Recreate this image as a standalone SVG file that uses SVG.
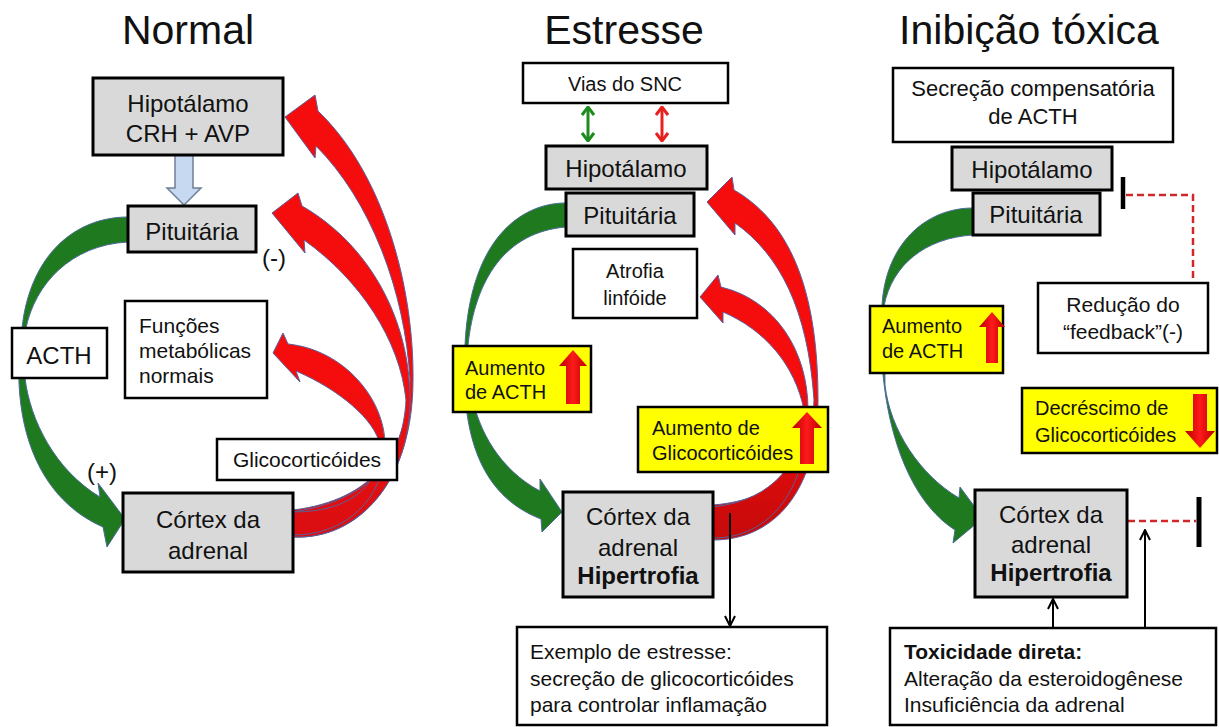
<svg xmlns="http://www.w3.org/2000/svg" width="1219" height="727" viewBox="0 0 1219 727">
<style>
text{font-family:"Liberation Sans",Arial,sans-serif;fill:#111}
.title{font-size:41px;text-anchor:middle}
.lbl{font-size:24px;text-anchor:middle}
.sm{font-size:21px}
.c{text-anchor:middle}
.b{font-weight:bold}
.gray{fill:#d9d9d9;stroke:#000;stroke-width:3}
.wht{fill:#fff;stroke:#000;stroke-width:2.5}
.yel{fill:#ffff00;stroke:#000;stroke-width:2.5}
.grn{fill:#1f7a1f;stroke:#4a6b9a;stroke-width:1}
.red{fill:url(#redg);stroke:#5a5f9a;stroke-width:1}
.red2{fill:url(#redg2);stroke:#5a5f9a;stroke-width:1}
.blk{stroke:#000;stroke-width:2;fill:none}
.dash{stroke:#d02828;stroke-width:2.5;fill:none;stroke-dasharray:7 4}
.upr{fill:url(#arrg)}
</style>
<defs>
<linearGradient id="redg" gradientUnits="userSpaceOnUse" x1="0" y1="380" x2="0" y2="545">
<stop offset="0" stop-color="#f50d0d"/><stop offset="1" stop-color="#d80f12"/>
</linearGradient>
<linearGradient id="redg2" gradientUnits="userSpaceOnUse" x1="0" y1="380" x2="0" y2="545">
<stop offset="0" stop-color="#f50d0d"/><stop offset="1" stop-color="#c40a0a"/>
</linearGradient>
<linearGradient id="arrg" x1="0" y1="0" x2="1" y2="0">
<stop offset="0" stop-color="#b80000"/><stop offset="0.5" stop-color="#ff1a1a"/><stop offset="1" stop-color="#b80000"/>
</linearGradient>
<marker id="vb" viewBox="0 0 12 12" refX="11" refY="6" markerWidth="12" markerHeight="12" markerUnits="userSpaceOnUse" orient="auto-start-reverse">
<path d="M1,1 L11,6 L1,11" fill="none" stroke="#000" stroke-width="2"/>
</marker>
<marker id="vg" viewBox="0 0 10 14" refX="9" refY="7" markerWidth="10" markerHeight="14" markerUnits="userSpaceOnUse" orient="auto-start-reverse">
<path d="M1,1 L9,7 L1,13" fill="none" stroke="#1f8a1f" stroke-width="3"/>
</marker>
<marker id="vr" viewBox="0 0 10 14" refX="9" refY="7" markerWidth="10" markerHeight="14" markerUnits="userSpaceOnUse" orient="auto-start-reverse">
<path d="M1,1 L9,7 L1,13" fill="none" stroke="#e82020" stroke-width="3"/>
</marker>
</defs>
<rect width="1219" height="727" fill="#fff"/>

<g id="titles">
<text class="title" x="188" y="44">Normal</text>
<text class="title" x="624" y="44">Estresse</text>
<text class="title" x="1029" y="44">Inibição tóxica</text>
</g>

<g id="connectors">
<!-- Panel 1 -->
<path d="M175,155 L193,155 L193,188 L201,188 L184,205 L167,188 L175,188 Z" fill="#c6d9f1" stroke="#6f7f95" stroke-width="1.5"/>
<path class="grn" d="M128,217 C75,217 30,255 22,328 C10,410 30,495 103,527 L107,547 L125,519 L98,483 L100,497 C55,470 30,420 25,378 L26,328 C35,285 70,245 128,242 Z"/>
<path class="red" d="M293,537 C360,540 413,480 413,380 C414,290 385,175 318,111 L315,95 L285,117 L315,158 L316,146 C370,200 405,290 410,380 C408,450 375,500 293,510 Z"/>
<path class="red" d="M293,537 C358,540 410,480 410,400 C410,320 370,245 302,206 L298,193 L272,213 L305,253 L304,240 C360,280 400,340 406,400 C403,460 370,500 293,512 Z"/>
<path class="red" d="M293,535 C345,535 385,500 385,445 C385,400 345,350 288,344 L283,333 L273,353 L300,382 L296,371 C340,390 375,420 380,445 C380,490 345,512 293,512 Z"/>
<!-- Panel 2 -->
<line x1="588" y1="107" x2="588" y2="141" stroke="#1f8a1f" stroke-width="3" marker-start="url(#vg)" marker-end="url(#vg)"/>
<line x1="662" y1="107" x2="662" y2="141" stroke="#e82020" stroke-width="3" marker-start="url(#vr)" marker-end="url(#vr)"/>
<path class="grn" d="M566,203 C520,203 470,240 465,345 C460,430 478,495 541,519 L542,532 L562,512 L540,479 L540,491 C500,470 478,430 472,395 L468,345 C475,280 505,232 566,227 Z"/>
<path class="red2" d="M713,540 C775,540 818,490 818,400 C818,300 795,225 734,190 L732,177 L707,202 L735,235 L735,223 C780,255 808,310 814,400 C812,460 780,500 713,505 Z"/>
<path class="red2" d="M713,538 C770,538 808,490 808,410 C808,350 775,300 721,287 L718,275 L700,297 L723,323 L723,312 C765,330 795,365 804,410 C804,460 775,500 713,507 Z"/>
<line class="blk" x1="730" y1="513" x2="730" y2="626" marker-end="url(#vb)"/>
<!-- Panel 3 -->
<path class="grn" d="M973,208 C925,208 885,245 882,306 C876,400 900,495 955,530 L953,543 L983,518 L960,487 L959,498 C920,475 890,430 885,385 L884,306 C892,265 925,238 973,235 Z"/>
<path class="dash" d="M1126,195 L1193,195 L1193,282"/>
<line x1="1123" y1="177" x2="1123" y2="209" stroke="#000" stroke-width="4.5"/>
<line class="dash" x1="1128" y1="521" x2="1196" y2="521"/>
<line x1="1199" y1="497" x2="1199" y2="547" stroke="#000" stroke-width="5"/>
<line class="blk" x1="1053" y1="627" x2="1053" y2="599" marker-end="url(#vb)"/>
<line class="blk" x1="1145" y1="627" x2="1145" y2="530" marker-end="url(#vb)"/>
</g>

<!-- Panel 1 nodes -->
<g id="n1-hipotalamo">
<rect class="gray" x="93" y="78" width="190" height="77"/>
<text class="lbl" x="188" y="112">Hipotálamo</text>
<text class="lbl" x="188" y="142">CRH + AVP</text>
</g>
<g id="n1-pituitaria">
<rect class="gray" x="128" y="206" width="128" height="46"/>
<text class="lbl" x="192" y="240">Pituitária</text>
</g>
<g id="n1-minus"><text class="lbl" x="274" y="266">(-)</text></g>
<g id="n1-acth">
<rect class="wht" x="12" y="328" width="95" height="50"/>
<text class="lbl" x="59" y="364">ACTH</text>
</g>
<g id="n1-funcoes">
<rect class="wht" x="125" y="301" width="142" height="97"/>
<text class="sm" x="139" y="333">Funções</text>
<text class="sm" x="139" y="358">metabólicas</text>
<text class="sm" x="139" y="383">normais</text>
</g>
<g id="n1-glico">
<rect class="wht" x="217" y="439" width="180" height="41"/>
<text class="sm c" x="307" y="467">Glicocorticóides</text>
</g>
<g id="n1-plus"><text class="lbl" x="102" y="480">(+)</text></g>
<g id="n1-cortex">
<rect class="gray" x="123" y="493" width="170" height="79"/>
<text class="lbl" x="208" y="528">Córtex da</text>
<text class="lbl" x="208" y="559">adrenal</text>
</g>

<!-- Panel 2 nodes -->
<g id="n2-snc">
<rect class="wht" x="523" y="63" width="205" height="40"/>
<text class="c" x="625" y="91" font-size="20">Vias do SNC</text>
</g>
<g id="n2-hipotalamo">
<rect class="gray" x="546" y="146" width="161" height="43"/>
<text class="lbl" x="626" y="177">Hipotálamo</text>
</g>
<g id="n2-pituitaria">
<rect class="gray" x="566" y="193" width="128" height="43"/>
<text class="lbl" x="630" y="224">Pituitária</text>
</g>
<g id="n2-atrofia">
<rect class="wht" x="573" y="249" width="124" height="69"/>
<text class="c" x="635" y="278" font-size="20">Atrofia</text>
<text class="c" x="635" y="305" font-size="20">linfóide</text>
</g>
<g id="n2-acth">
<rect class="yel" x="453" y="346" width="138" height="66"/>
<text x="465" y="375" font-size="20">Aumento</text>
<text x="465" y="399" font-size="20">de ACTH</text>
<path class="upr" d="M573,350 L587,366 L580,366 L580,404 L566,404 L566,366 L559,366 Z"/>
</g>
<g id="n2-glico">
<rect class="yel" x="638" y="407" width="190" height="65"/>
<text x="652" y="435" font-size="20">Aumento de</text>
<text x="652" y="460" font-size="20">Glicocorticóides</text>
<path class="upr" d="M807,412 L822,428 L814,428 L814,464 L800,464 L800,428 L792,428 Z"/>
</g>
<g id="n2-cortex">
<rect class="gray" x="563" y="492" width="150" height="105"/>
<text class="lbl" x="638" y="525">Córtex da</text>
<text class="lbl" x="638" y="556">adrenal</text>
<text class="lbl b" x="638" y="584" font-size="22">Hipertrofia</text>
</g>
<g id="n2-exemplo">
<rect class="wht" x="517" y="627" width="310" height="98"/>
<text class="sm" x="530" y="659">Exemplo de estresse:</text>
<text class="sm" x="530" y="686">secreção de glicocorticóides</text>
<text class="sm" x="530" y="712">para controlar inflamação</text>
</g>

<!-- Panel 3 nodes -->
<g id="n3-secrecao">
<rect class="wht" x="893" y="68" width="280" height="74"/>
<text class="c" x="1033" y="96" font-size="22">Secreção compensatória</text>
<text class="c" x="1033" y="124" font-size="22">de ACTH</text>
</g>
<g id="n3-hipotalamo">
<rect class="gray" x="952" y="147" width="160" height="43"/>
<text class="lbl" x="1032" y="178">Hipotálamo</text>
</g>
<g id="n3-pituitaria">
<rect class="gray" x="973" y="193" width="127" height="42"/>
<text class="lbl" x="1036" y="223">Pituitária</text>
</g>
<g id="n3-reducao">
<rect class="wht" x="1038" y="283" width="170" height="70"/>
<text class="sm c" x="1123" y="312">Redução do</text>
<text class="sm c" x="1123" y="339">“feedback”(-)</text>
</g>
<g id="n3-acth">
<rect class="yel" x="870" y="306" width="133" height="67"/>
<text x="882" y="333" font-size="20">Aumento</text>
<text x="882" y="358" font-size="20">de ACTH</text>
<path class="upr" d="M992,312 L1005,327 L998,327 L998,363 L986,363 L986,327 L979,327 Z"/>
</g>
<g id="n3-glico">
<rect class="yel" x="1022" y="388" width="195" height="65"/>
<text x="1035" y="415" font-size="20">Decréscimo de</text>
<text x="1035" y="442" font-size="20">Glicocorticóides</text>
<path class="upr" d="M1200,448 L1215,431 L1207,431 L1207,394 L1193,394 L1193,431 L1185,431 Z"/>
</g>
<g id="n3-cortex">
<rect class="gray" x="975" y="490" width="152" height="107"/>
<text class="lbl" x="1051" y="523">Córtex da</text>
<text class="lbl" x="1051" y="553">adrenal</text>
<text class="lbl b" x="1051" y="581" font-size="22">Hipertrofia</text>
</g>
<g id="n3-toxicidade">
<rect class="wht" x="890" y="628" width="326" height="97"/>
<text class="sm b" x="904" y="659">Toxicidade direta:</text>
<text class="sm" x="904" y="686">Alteração da esteroidogênese</text>
<text class="sm" x="904" y="712">Insuficiência da adrenal</text>
</g>
</svg>
